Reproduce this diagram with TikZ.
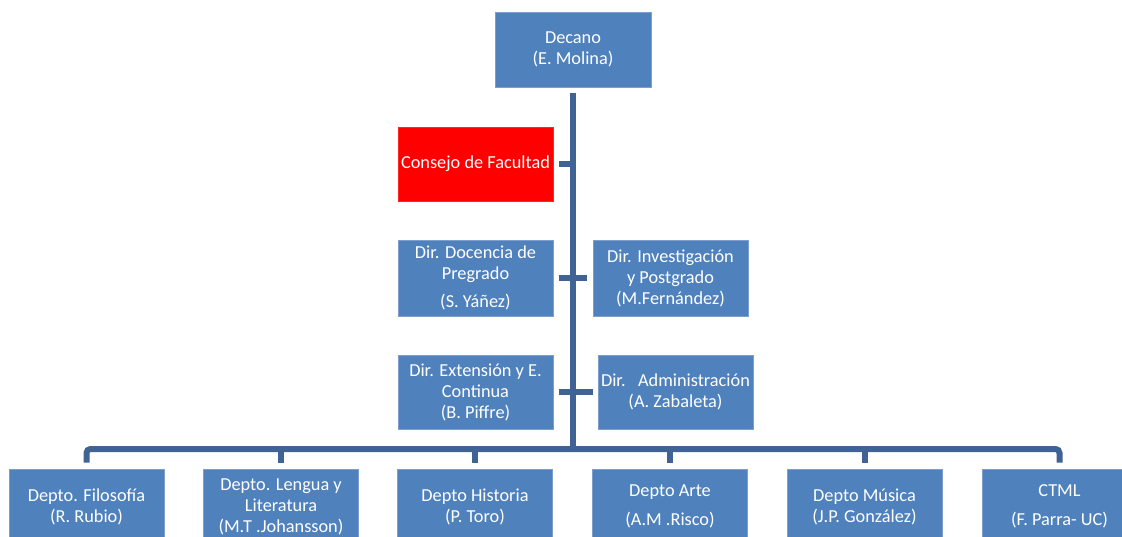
\documentclass[tikz,border=0pt]{standalone}
\usepackage{fontspec}
\setmainfont{Carlito}
\definecolor{boxblue}{RGB}{79,129,189}
\definecolor{boxedge}{RGB}{125,158,206}
\definecolor{linkblue}{RGB}{62,99,148}
\definecolor{redbox}{RGB}{255,0,0}
\begin{document}
\begin{tikzpicture}[x=1pt,y=-1pt,
  orgbox/.style={rectangle,fill=boxblue,draw=boxedge,line width=0.8pt,text=white,
    align=center,inner sep=0pt,minimum width=155pt,minimum height=75pt,
    font=\fontsize{18.3}{21}\selectfont},
  redorg/.style={orgbox,fill=redbox,draw=redbox!85!white},
  link/.style={draw=linkblue,line width=6pt}]
\useasboundingbox (0,0) rectangle (1122,537);
\clip (0,0) rectangle (1122,537);
% top boxes
\node[orgbox,minimum width=156pt] (dec) at (573,49.5) {Decano\\(E. Molina)};
\node[redorg,minimum height=74pt] (cons) at (475.5,164) {Consejo de Facultad};
\node[orgbox,minimum height=76pt] (doc) at (475.5,278) {Dir. Docencia de\\Pregrado\\[7pt](S. Yáñez)};
\node[orgbox,minimum height=76pt] (inv) at (670.5,278) {Dir. Investigación\\y Postgrado\\(M.Fernández)};
\node[orgbox,minimum height=74pt] (ext) at (475.5,392) {Dir. Extensión y E.\\Continua\\(B. Piffre)};
\node[orgbox,minimum height=74pt] (adm) at (675.5,392) {Dir.\ \ \ Administración\\(A. Zabaleta)};
% bottom boxes
\node[orgbox] (d1) at (86.5,506.5) {Depto. Filosofía\\(R. Rubio)};
\node[orgbox] (d2) at (281,506.5) {Depto. Lengua y\\Literatura\\(M.T .Johansson)};
\node[orgbox] (d3) at (475,506.5) {Depto Historia\\(P. Toro)};
\node[orgbox] (d4) at (670,506.5) {Depto Arte\\[8pt](A.M .Risco)};
\node[orgbox] (d5) at (864.5,506.5) {Depto Música\\(J.P. González)};
\node[orgbox] (d6) at (1059.5,506.5) {CTML\\[8pt](F. Parra- UC)};
% trunk and bus
\coordinate (bus) at (573,449);
\path[link] ([yshift=-6pt]dec.south) -- (bus);
\path[link] ([xshift=6pt]cons.east) -- (cons.east -| bus);
\path[link] ([xshift=6pt]doc.east) -- ([xshift=-6pt]inv.west);
\path[link] ([xshift=6pt]ext.east) -- ([xshift=-5pt]adm.west);
\path[link,rounded corners=4pt] ([yshift=6pt]d1.north) |- (bus) -| ([yshift=6pt]d6.north);
\foreach \d in {d2,d3,d4,d5}{
  \path[link] ([yshift=6pt]\d.north) -- (\d.north |- bus);
}
\end{tikzpicture}
\end{document}
